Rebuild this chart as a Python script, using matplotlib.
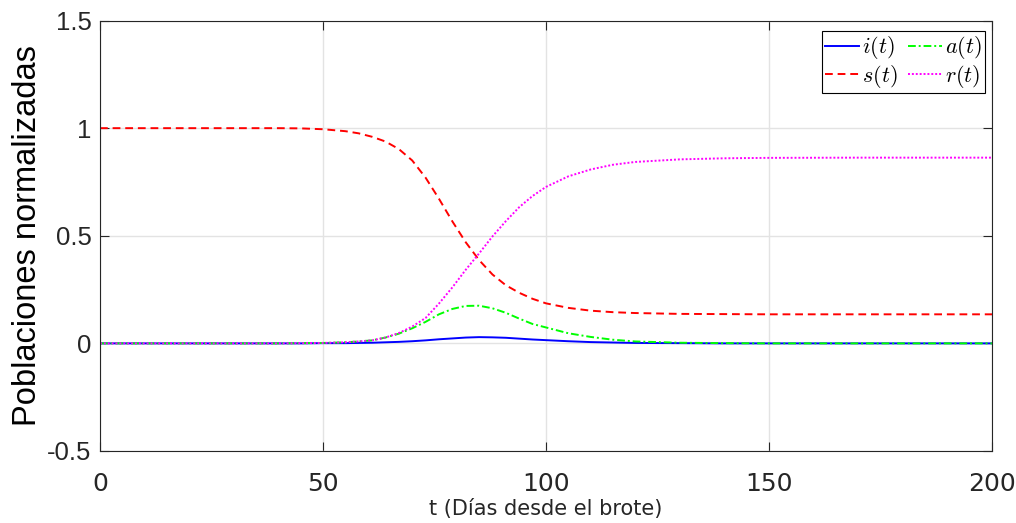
import matplotlib
matplotlib.use('Agg')
import matplotlib.pyplot as plt

# dias desde el brote y poblaciones normalizadas
t = [0, 20, 40, 45, 50, 55, 58, 61, 64, 67, 70, 73, 76, 79, 82, 85, 88, 91,
     94, 97, 100, 105, 110, 115, 120, 130, 140, 150, 170, 200]
i_t = [0, 0, 0, 0, 0.001, 0.001, 0.002, 0.003, 0.005, 0.007, 0.010, 0.014,
       0.019, 0.023, 0.027, 0.029, 0.028, 0.026, 0.022, 0.018, 0.015, 0.010,
       0.006, 0.004, 0.002, 0.001, 0, 0, 0, 0]
a_t = [0, 0, 0, 0.001, 0.002, 0.005, 0.009, 0.014, 0.027, 0.045, 0.070, 0.100,
       0.135, 0.160, 0.174, 0.175, 0.163, 0.142, 0.115, 0.090, 0.074, 0.047,
       0.030, 0.017, 0.009, 0.003, 0.001, 0, 0, 0]
s_t = [1, 1, 1, 0.999, 0.995, 0.986, 0.976, 0.960, 0.938, 0.903, 0.850, 0.770,
       0.672, 0.567, 0.470, 0.387, 0.320, 0.270, 0.235, 0.207, 0.186, 0.165,
       0.152, 0.145, 0.141, 0.137, 0.136, 0.135, 0.135, 0.135]
r_t = [0, 0, 0, 0.001, 0.002, 0.005, 0.009, 0.014, 0.027, 0.048, 0.078, 0.118,
       0.185, 0.260, 0.342, 0.418, 0.497, 0.568, 0.633, 0.685, 0.727, 0.776,
       0.808, 0.830, 0.843, 0.855, 0.860, 0.862, 0.863, 0.863]

plt.rcParams['mathtext.fontset'] = 'cm'

fig = plt.figure(figsize=(10.16, 5.23), dpi=100)
ax = fig.add_axes([0.0984, 0.1377, 0.878, 0.823])

lw = 1.4
li, = ax.plot(t, i_t, color='#0000ff', lw=lw, label='$i(t)$')
la, = ax.plot(t, a_t, color='#00ff00', lw=lw, linestyle=(0, (4, 1.5, 1, 1.5)), label='$a(t)$')
ls, = ax.plot(t, s_t, color='#ff0000', lw=lw, linestyle=(0, (4, 2.5)), label='$s(t)$')
lr, = ax.plot(t, r_t, color='#ff00ff', lw=lw, linestyle=(0, (1, 1)), label='$r(t)$')

ax.set_xlim(0, 200)
ax.set_ylim(-0.5, 1.5)
ax.set_xticks([0, 50, 100, 150, 200])
ax.set_yticks([-0.5, 0, 0.5, 1, 1.5])
ax.set_yticklabels(['-0.5', '0', '0.5', '1', '1.5'])

ax.grid(True, color='#e3e3e3', lw=1.0)
ax.set_axisbelow(True)
for sp in ax.spines.values():
    sp.set_color('#262626')
    sp.set_linewidth(0.8)

ax.tick_params(direction='in', length=6.5, width=0.8, color='#262626',
               top=True, right=True)
ax.tick_params(axis='y', pad=6, labelsize=18.5, labelcolor='#262626')
ax.tick_params(axis='x', pad=15, labelsize=18, labelcolor='#262626')
for lab in ax.get_yticklabels():
    lab.set_family('Liberation Sans')
for lab in ax.get_xticklabels():
    lab.set_family('DejaVu Sans')

ax.set_ylabel('Poblaciones normalizadas', family='Liberation Sans', fontsize=23.5,
              color='#000000', labelpad=3)
ax.set_xlabel('t (Días desde el brote)', family='DejaVu Sans', fontsize=15,
              color='#262626', labelpad=2)

leg = ax.legend(handles=[li, ls, la, lr], ncol=2, loc='upper right',
                bbox_to_anchor=(0.9922, 0.9756), borderaxespad=0,
                fontsize=16, handlelength=1.53, handletextpad=0.12,
                columnspacing=0.5, borderpad=0.15, labelspacing=0.05,
                fancybox=False, framealpha=1, edgecolor='#000000')
leg.get_frame().set_linewidth(0.8)

fig.savefig('out.png', dpi=100)
